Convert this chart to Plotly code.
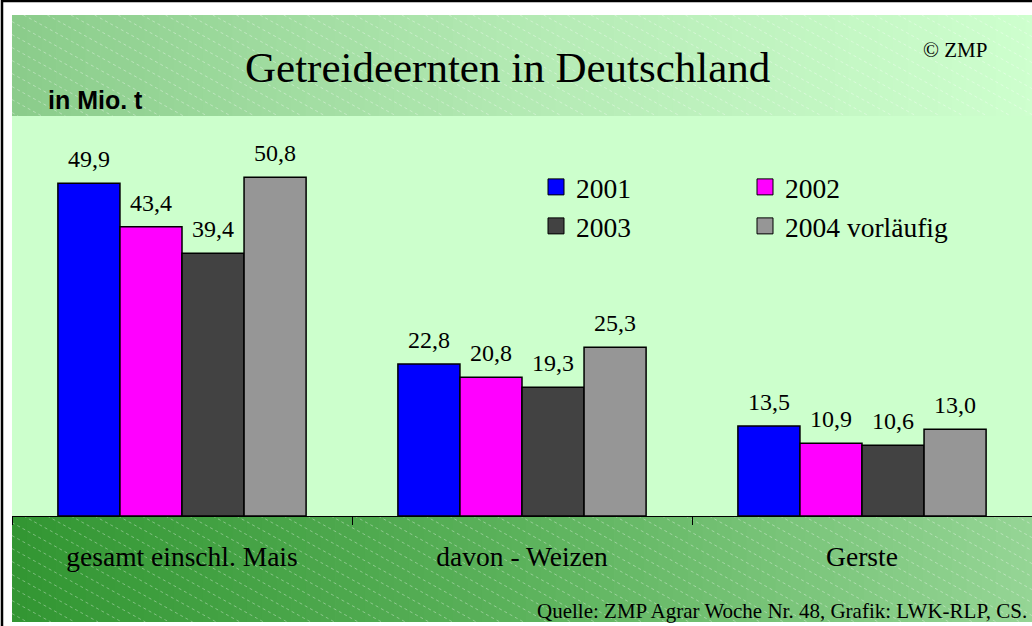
import plotly.graph_objects as go

# ---------------- data ----------------
categories = ["gesamt einschl. Mais", "davon - Weizen", "Gerste"]
series_names = ["2001", "2002", "2003", "2004 vorläufig"]
v2001 = [49.9, 22.8, 13.5]
v2002 = [43.4, 20.8, 10.9]
v2003 = [39.4, 19.3, 10.6]
v2004 = [50.8, 25.3, 13.0]
series_values = [v2001, v2002, v2003, v2004]
series_colors = ["#0000ff", "#ff00ff", "#424242", "#969696"]

title_text = "Getreideernten in Deutschland"
unit_text = "in Mio. t"
copyright_text = "© ZMP"
source_text = "Quelle: ZMP Agrar Woche Nr. 48, Grafik: LWK-RLP, CS."

# ---------------- geometry helpers ----------------
W, H = 1032, 626
ML, MR, MT, MB = 12, 0, 116, 110
PW = W - ML - MR
PH = H - MT - MB
SERIF = "Liberation Serif, Times New Roman, serif"
SANS = "Liberation Sans, Arial, sans-serif"


def xp(px):
    return (px - ML) / PW


def yp(py):
    return (H - MB - py) / PH


def lerp_color(stops, t):
    for i in range(len(stops) - 1):
        t0, c0 = stops[i]
        t1, c1 = stops[i + 1]
        if t <= t1:
            f = (t - t0) / (t1 - t0) if t1 > t0 else 0
            c = [round(c0[k] + (c1[k] - c0[k]) * f) for k in range(3)]
            return f"rgb({c[0]},{c[1]},{c[2]})"
    c = stops[-1][1]
    return f"rgb({c[0]},{c[1]},{c[2]})"


def gradient_strips(x1, y1, x2, y2, stops, n=70):
    shapes = []
    w = (x2 - x1) / n
    for i in range(n):
        a = x1 + i * w
        b = a + w + 0.8
        col = lerp_color(stops, (i + 0.5) / n)
        shapes.append(dict(type="rect", xref="paper", yref="paper",
                           x0=xp(a), x1=xp(b), y0=yp(y2), y1=yp(y1),
                           fillcolor=col, line=dict(width=0), layer="below"))
    return shapes


def hatch_path(x1, y1, x2, y2, slope=0.55, step=13):
    segs = []
    c = y1 - slope * x2
    c_max = y2 - slope * x1
    while c <= c_max:
        xa = max(x1, (y1 - c) / slope)
        xb = min(x2, (y2 - c) / slope)
        if xb > xa:
            ya = c + slope * xa
            yb = c + slope * xb
            segs.append(f"M{xp(xa):.5f},{yp(ya):.5f}L{xp(xb):.5f},{yp(yb):.5f}")
        c += step
    return "".join(segs)


shapes = []
# header band
shapes += gradient_strips(12, 15, 1040, 116,
                          [(0, (138, 204, 138)), (0.5, (180, 234, 180)), (1, (206, 255, 206))])
# bottom band
shapes += gradient_strips(12, 516, 1040, 622,
                          [(0, (50, 150, 50)), (0.5, (92, 178, 92)), (1, (150, 214, 150))])
for (a, b, c, d) in [(12, 15, 1040, 116), (12, 516, 1040, 622)]:
    shapes.append(dict(type="path", xref="paper", yref="paper",
                       path=hatch_path(a, b, c, d),
                       line=dict(color="rgba(255,255,255,0.35)", width=1, dash="dot"),
                       layer="below"))
# outer border
shapes.append(dict(type="rect", xref="paper", yref="paper",
                   x0=xp(2), x1=xp(1045), y0=yp(640), y1=yp(1),
                   line=dict(color="black", width=2.5), fillcolor="rgba(0,0,0,0)",
                   layer="above"))

# ---------------- figure ----------------
fig = go.Figure()
legend_ids = ["legend", "legend2", "legend3", "legend4"]
for name, vals, col in zip(series_names, series_values, series_colors):
    fig.add_trace(go.Bar(
        x=categories, y=vals, name=name, legendgroup=name,
        marker=dict(color=col, line=dict(color="black", width=1.5)),
        showlegend=False, hoverinfo="skip",
    ))
# legend entries with larger square swatches (no data points drawn)
for name, col, lg in zip(series_names, series_colors, legend_ids):
    fig.add_trace(go.Scatter(
        x=[None], y=[None], name=name, legendgroup=name, mode="markers",
        marker=dict(symbol="square", size=19, color=col,
                    line=dict(color="black", width=1)),
        legend=lg, showlegend=True, hoverinfo="skip",
    ))

bargap = 0.27
bw = (1 - bargap) / len(series_names)
annotations = []
for si, vals in enumerate(series_values):
    off = (si - (len(series_names) - 1) / 2) * bw
    for ci, v in enumerate(vals):
        annotations.append(dict(
            x=ci + off, y=v, xref="x", yref="y",
            text=f"{v:.1f}".replace(".", ","), showarrow=False,
            yanchor="bottom", xanchor="center", yshift=9,
            font=dict(family=SERIF, size=24, color="black"),
        ))

annotations += [
    dict(x=xp(507), y=yp(68), xref="paper", yref="paper", text=title_text,
         showarrow=False, xanchor="center", yanchor="middle",
         font=dict(family=SERIF, size=43, color="black")),
    dict(x=xp(46), y=yp(100), xref="paper", yref="paper", text=unit_text,
         showarrow=False, xanchor="left", yanchor="middle",
         font=dict(family=SANS, size=25, color="black", weight="bold")),
    dict(x=xp(955), y=yp(50), xref="paper", yref="paper", text=copyright_text,
         showarrow=False, xanchor="center", yanchor="middle",
         font=dict(family=SERIF, size=21, color="black")),
    dict(x=xp(1029), y=yp(611), xref="paper", yref="paper", text=source_text,
         showarrow=False, xanchor="right", yanchor="middle",
         font=dict(family=SERIF, size=21, color="black")),
]

legend_pos = [(536, 187), (745, 187), (536, 226), (745, 226)]
legend_layout = {}
for lg, (lx, ly) in zip(legend_ids, legend_pos):
    legend_layout[lg] = dict(
        x=xp(lx), y=yp(ly), xanchor="left", yanchor="middle",
        bgcolor="rgba(0,0,0,0)", borderwidth=0, itemwidth=30,
        font=dict(family=SERIF, size=27.5, color="black"),
    )

fig.update_layout(
    width=W, height=H,
    margin=dict(l=ML, r=MR, t=MT, b=MB, pad=0),
    paper_bgcolor="white",
    plot_bgcolor="#ccffcc",
    barmode="group", bargap=bargap, bargroupgap=0,
    showlegend=True,
    shapes=shapes,
    annotations=annotations,
    xaxis=dict(
        type="category", range=[-0.5, 2.5], showline=True, linecolor="black",
        linewidth=1, ticks="outside", tickson="boundaries", ticklen=8,
        tickcolor="black", tickwidth=1, showgrid=False, zeroline=False,
        tickfont=dict(family=SERIF, size=27.5, color="black"),
        ticklabelstandoff=16, fixedrange=True,
    ),
    yaxis=dict(range=[0, 60], visible=False, fixedrange=True),
    **legend_layout,
)

fig.write_html(
    "out.html",
    config={"displayModeBar": False},
    post_script="document.body.style.margin='0px';document.body.style.overflow='hidden';",
)
